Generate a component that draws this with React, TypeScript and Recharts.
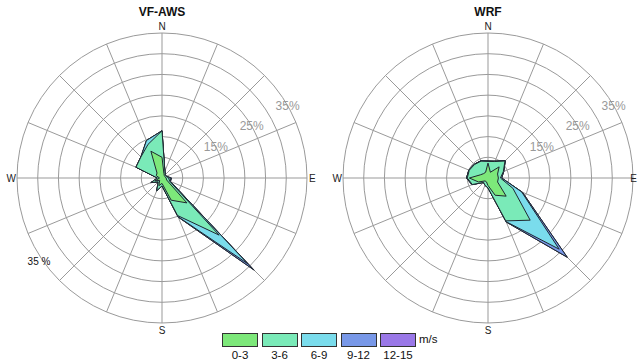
import { RadarChart, Radar, PolarGrid, PolarAngleAxis, PolarRadiusAxis } from 'recharts';

const directions = ['N', 'NNE', 'NE', 'ENE', 'E', 'ESE', 'SE', 'SSE', 'S', 'SSW', 'SW', 'WSW', 'W', 'WNW', 'NW', 'NNW'];
const speedBins = ['0-3', '3-6', '6-9', '9-12', '12-15'];
const binColors = ['#7de87a', '#7aeab8', '#7adcec', '#7898e8', '#9a78e8'];
const radiusTicks = [15, 25, 35];

// VF-AWS frequency (%) by direction, one array per speed class
const aws0to3 = [5.0, 1.2, 0.8, 0.8, 1.0, 1.2, 8.5, 5.8, 1.3, 2.0, 0.8, 1.8, 0.6, 1.5, 1.7, 7.0];
const aws3to6 = [6.4, 0.6, 0.3, 0.3, 0.6, 0.8, 11.0, 4.0, 0.6, 1.3, 0.5, 1.1, 0.5, 5.3, 5.5, 1.8];
const aws6to9 = [0, 0, 0, 0, 0.4, 0.2, 9.8, 0.3, 0, 0, 0, 0, 0, 0, 0, 1.0];
const aws9to12 = [0, 0, 0, 0, 0.3, 0, 2.0, 0.1, 0, 0, 0, 0, 0, 0, 0, 0];
const aws12to15 = [0, 0, 0, 0, 0, 0, 0.2, 0, 0, 0, 0, 0, 0, 0, 0, 0];

// WRF frequency (%) by direction
const wrf0to3 = [3.6, 1.5, 3.8, 2.5, 2.5, 2.5, 6.2, 4.5, 1.8, 1.0, 1.0, 2.5, 4.5, 2.0, 1.5, 1.5];
const wrf3to6 = [0.4, 2.8, 2.0, 1.5, 0.5, 4.0, 8.2, 6.7, 0.6, 0.9, 0.5, 1.6, 0.5, 2.9, 3.1, 2.9];
const wrf6to9 = [0.1, 0.1, 0.1, 0.1, 0.3, 2.3, 9.9, 0.2, 0, 0, 0, 0.1, 0.2, 0.1, 0.1, 0.1];
const wrf9to12 = [0, 0, 0, 0, 0, 0.2, 2.7, 0.1, 0, 0, 0, 0, 0, 0, 0, 0];
const wrf12to15 = [0, 0, 0, 0, 0, 0, 0.1, 0, 0, 0, 0, 0, 0, 0, 0, 0];

const R = 145;
const CX = 162;
const CY = 178;
const MAX = 35;

function buildRows(bins: number[][]) {
  return directions.map((dir, i) => {
    const row: Record<string, number | string> = { dir };
    let sum = 0;
    bins.forEach((b, k) => {
      sum += b[i];
      row['c' + k] = +sum.toFixed(2);
    });
    return row;
  });
}

const awsRows = buildRows([aws0to3, aws3to6, aws6to9, aws9to12, aws12to15]);
const wrfRows = buildRows([wrf0to3, wrf3to6, wrf6to9, wrf9to12, wrf12to15]);

const rings = [5, 10, 15, 20, 25, 30, 35].map((v) => (v / MAX) * R);
const allAngles = directions.map((_, i) => 90 - i * 22.5);
const minorAngles = allAngles.filter((_, i) => i % 4 !== 0);
const mainAngles = allAngles.filter((_, i) => i % 4 === 0);

function makeCompassTick(eDx: number, eAnchor: string) {
  const labelPos: Record<string, { dx: number; dy: number; anchor: string }> = {
    N: { dx: 0, dy: -R - 3, anchor: 'middle' },
    E: { dx: eDx, dy: 4, anchor: eAnchor },
    S: { dx: 0, dy: R + 11, anchor: 'middle' },
    W: { dx: -R - 1, dy: 4, anchor: 'end' },
  };
  return function CompassTick(props: any) {
    const p = labelPos[props.payload.value];
    if (!p) return null;
    return (
      <text x={CX + p.dx} y={CY + p.dy} textAnchor={p.anchor} fontSize={10} fill="#222">
        {props.payload.value}
      </text>
    );
  };
}

function PercentTick(props: any) {
  const v = props.payload.value;
  if (!radiusTicks.includes(v)) return null;
  return (
    <text x={props.x} y={props.y + 4} textAnchor="middle" fontSize={12} fill="#999">
      {v}%
    </text>
  );
}

function Rose({ rows, title, left, width, eDx, eAnchor, extra }: { rows: any[]; title: string; left: number; width: number; eDx: number; eAnchor: string; extra?: boolean }) {
  const Tick = makeCompassTick(eDx, eAnchor);
  return (
    <div style={{ position: 'absolute', left, top: 0, width, height: 340 }}>
      <div style={{ position: 'absolute', left: CX - 60, top: 5, width: 120, textAlign: 'center', fontWeight: 'bold', fontSize: 12, color: '#111' }}>
        {title}
      </div>
      <RadarChart width={width} height={340} cx={CX} cy={CY} outerRadius={R} data={rows} margin={{ top: 0, right: 0, bottom: 0, left: 0 }}>
        <PolarGrid gridType="circle" polarRadius={[1]} polarAngles={mainAngles} stroke="#cccccc" strokeWidth={2} />
        <PolarGrid gridType="circle" polarRadius={rings} polarAngles={minorAngles} stroke="#9a9a9a" strokeWidth={1} />
        <PolarAngleAxis dataKey="dir" tick={<Tick />} tickLine={false} axisLine={false} />
        <PolarRadiusAxis angle={30} domain={[0, MAX]} tickCount={8} axisLine={false} tickLine={false} tick={<PercentTick />} />
        {[4, 3, 2, 1, 0].map((k) => (
          <Radar
            key={k}
            dataKey={'c' + k}
            fill={binColors[k]}
            fillOpacity={1}
            stroke="#1f2630"
            strokeWidth={1}
            dot={false}
            isAnimationActive={false}
          />
        ))}
        {extra && (
          <text x={39} y={265} textAnchor="middle" fontSize={10} fill="#111">
            35 %
          </text>
        )}
      </RadarChart>
    </div>
  );
}

export default function App() {
  return (
    <div
      style={{
        position: 'absolute',
        left: 0,
        top: 0,
        width: 638,
        height: 363,
        background: '#fff',
        overflow: 'hidden',
        fontFamily: '"Liberation Sans", Arial, sans-serif',
      }}
    >
      <Rose rows={awsRows} title="VF-AWS" left={0} width={320} eDx={R + 2} eAnchor="start" extra />
      <Rose rows={wrfRows} title="WRF" left={326} width={312} eDx={R + 4} eAnchor="end" />
      {speedBins.map((b, k) => (
        <div key={b} style={{ position: 'absolute', left: 222 + k * 39.5, top: 333, width: 36 }}>
          <div style={{ width: 34, height: 12, background: binColors[k], border: '1px solid #333' }} />
          <div style={{ textAlign: 'center', fontSize: 11.5, color: '#111', marginTop: 2 }}>{b}</div>
        </div>
      ))}
      <div style={{ position: 'absolute', left: 419, top: 333, fontSize: 11.5, color: '#111' }}>m/s</div>
    </div>
  );
}
